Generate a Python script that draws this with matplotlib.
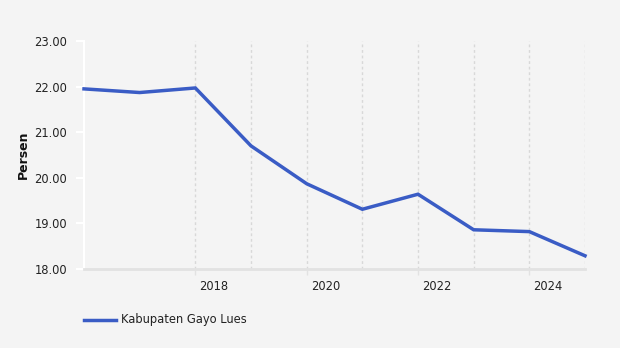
import matplotlib
matplotlib.use("Agg")
import matplotlib.pyplot as plt
from matplotlib.lines import Line2D
import matplotlib.transforms as mtrans

years = [2016, 2017, 2018, 2019, 2020, 2021, 2022, 2023, 2024, 2025]
values = [21.95, 21.87, 21.97, 20.70, 19.87, 19.31, 19.64, 18.86, 18.82, 18.29]
series_name = "Kabupaten Gayo Lues"
y_ticks = [18, 19, 20, 21, 22, 23]
x_label_years = [2018, 2020, 2022, 2024]
grid_years = [2018, 2019, 2020, 2021, 2022, 2023, 2024, 2025]

W, H = 620, 348
fig = plt.figure(figsize=(W / 100, H / 100), dpi=100)
fig.patch.set_facecolor("#f4f4f4")
ax = fig.add_axes([84 / W, 1 - 269 / H, (585 - 84) / W, (269 - 41) / H])
ax.set_facecolor("#f4f4f4")

line_color = "#3a5cc5"
ax.plot(years, values, color=line_color, lw=2.5, solid_joinstyle="miter", zorder=3, clip_on=False)

for g in grid_years:
    ax.axvline(g, color="#d8d8d8", lw=1, ls=(0, (2, 2)), zorder=1)

ax.set_xlim(2016, 2025)
ax.set_ylim(18, 23)
ax.set_yticks(y_ticks)
ax.set_yticklabels([f"{v:.2f}" for v in y_ticks], fontsize=8.3, color="#222222")
ax.set_xticks(x_label_years)
ax.set_xticklabels([str(y) for y in x_label_years], fontsize=8.3, color="#222222", ha="left")

for s in ["top", "right"]:
    ax.spines[s].set_visible(False)
ax.spines["left"].set_color("white")
ax.spines["left"].set_linewidth(1.5)
ax.spines["bottom"].set_color("#e2e2e2")
ax.spines["bottom"].set_linewidth(2)
ax.tick_params(axis="y", length=6, width=1.5, color="white", pad=6)
ax.tick_params(axis="x", length=4, width=1, color="#e2e2e2", pad=4)
offset = mtrans.ScaledTranslation(4 / 100, 0, fig.dpi_scale_trans)
for lbl in ax.get_xticklabels():
    lbl.set_transform(lbl.get_transform() + offset)

ax.set_ylabel("Persen", fontsize=9, fontweight="bold", color="#111111", labelpad=3)

fig.add_artist(Line2D([84 / W, 116 / W], [1 - 320 / H, 1 - 320 / H], color=line_color, lw=2.5))
fig.text(121 / W, 1 - 320 / H, series_name, fontsize=8.3, color="#222222", va="center", ha="left")

fig.savefig("out.png", dpi=100, facecolor=fig.get_facecolor())
